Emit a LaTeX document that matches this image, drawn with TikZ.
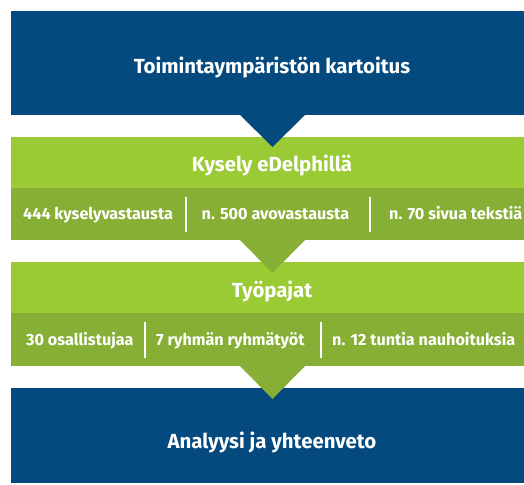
\documentclass[tikz,border=0pt]{standalone}
\usepackage{fontspec}
\setmainfont{Fira Sans}
\definecolor{navy}{RGB}{5,74,126}
\definecolor{lgreen}{RGB}{154,202,52}
\definecolor{dgreen}{RGB}{135,175,53}
\begin{document}
\begin{tikzpicture}[x=1pt,y=-1pt,
  title/.style={text=white,font=\bfseries\fontsize{20.4}{24}\selectfont,inner sep=0pt,anchor=base},
  item/.style={text=white,font=\bfseries\fontsize{16.2}{19}\selectfont,inner sep=0pt,anchor=base west},
  sep/.style={draw=white,line width=1.3pt}]
\useasboundingbox (0,0) rectangle (524,484);
\clip (0,0) rectangle (524,484);
% boxes
\fill[navy] (11,11) rectangle (540,115);
\fill[lgreen] (11,137) rectangle (540,188);
\fill[dgreen] (11,188) rectangle (540,240);
\fill[lgreen] (11,262) rectangle (540,313);
\fill[dgreen] (11,313) rectangle (540,366);
\fill[navy] (11,388) rectangle (540,483);
% notches
\fill[navy] (240,115) -- (305,115) -- (272.5,147) -- cycle;
\fill[dgreen] (240,240) -- (305,240) -- (272.5,273) -- cycle;
\fill[dgreen] (240,366) -- (305,366) -- (272.5,399) -- cycle;
% titles
\node[title] (t1) at (272,74) {Toimintaympäristön kartoitus};
\node[title] (t2) at (272,171) {Kysely eDelphillä};
\node[title] (t3) at (272,297) {Työpajat};
\node[title] (t4) at (272,448) {Analyysi ja yhteenveto};
% items row 1
\node[item] (a1) at (23,219) {444 kyselyvastausta};
\node[item] (a2) at (201.5,219) {n. 500 avovastausta};
\node[item] (a3) at (389,219) {n. 70 sivua tekstiä};
\coordinate (s1a) at (186,197); \coordinate (s1b) at (186,232);
\coordinate (s2a) at (370,197); \coordinate (s2b) at (370,232);
\draw[sep] (s1a) -- (s1b);
\draw[sep] (s2a) -- (s2b);
% items row 2
\node[item] (b1) at (26,345.5) {30 osallistujaa};
\node[item] (b2) at (156,345.5) {7 ryhmän ryhmätyöt};
\node[item] (b3) at (332,345.5) {n. 12 tuntia nauhoituksia};
\coordinate (s3a) at (145,322); \coordinate (s3b) at (145,357.5);
\coordinate (s4a) at (321,322); \coordinate (s4b) at (321,357.5);
\draw[sep] (s3a) -- (s3b);
\draw[sep] (s4a) -- (s4b);
\end{tikzpicture}
\end{document}
